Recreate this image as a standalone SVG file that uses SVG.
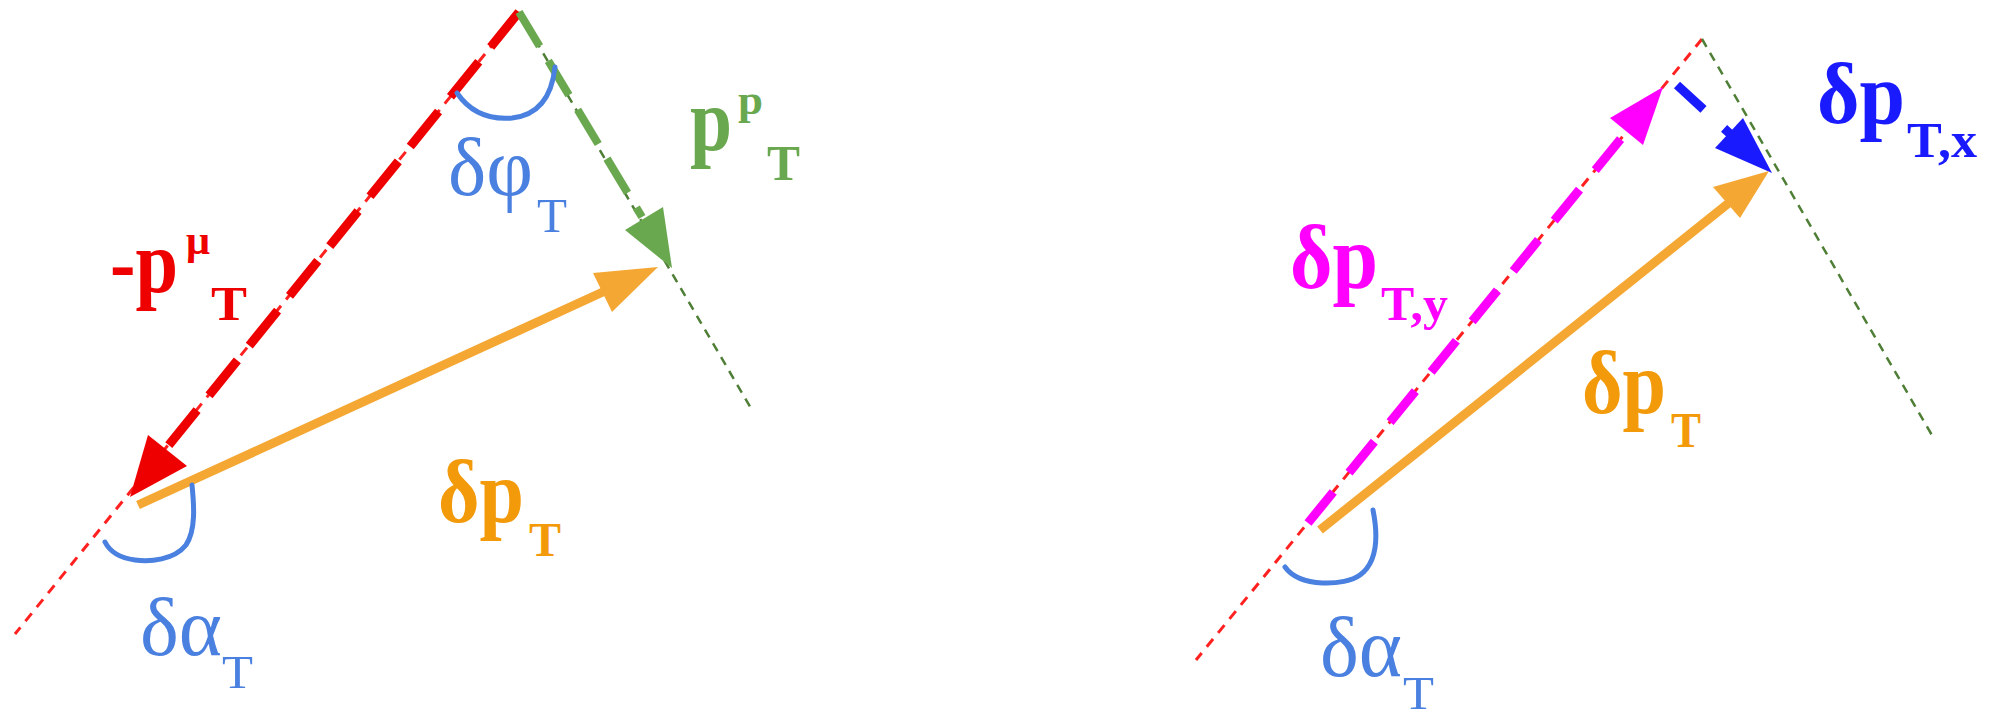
<svg xmlns="http://www.w3.org/2000/svg" width="1990" height="714" viewBox="0 0 1990 714">
<style>
.thinR{fill:none;stroke:#ff2020;stroke-width:3;stroke-dasharray:10 8}
.thinG{fill:none;stroke:#4f7f36;stroke-width:2.5;stroke-dasharray:9 7}
.thickR{fill:none;stroke:#ee0000;stroke-width:9;stroke-dasharray:45 19}
.thickG{fill:none;stroke:#6aa84f;stroke-width:8;stroke-dasharray:40 17}
.thickM{fill:none;stroke:#ff00ff;stroke-width:9;stroke-dasharray:40 25}
.thickB{fill:none;stroke:#1a1aff;stroke-width:9}
.solidO{fill:none;stroke:#f5a733;stroke-width:9}
.arc{fill:none;stroke:#4a80e0;stroke-width:5;stroke-linecap:round}
.b{font-family:"Liberation Serif","DejaVu Serif",serif;font-weight:bold}
.r{font-family:"Liberation Serif","DejaVu Serif",serif}
.cR{fill:#ee0000}.cG{fill:#6aa84f}.cO{fill:#f39a0b}.cB{fill:#4a80e0}.cM{fill:#ff00ff}.cDB{fill:#1a1aff}
</style>
<g id="connectors">
  <!-- left diagram -->
  <line class="thinR" x1="519" y1="12" x2="15" y2="634"/>
  <line class="thinG" x1="519" y1="12" x2="752" y2="410"/>
  <line class="thickR" x1="519" y1="12" x2="160" y2="456"/>
  <polygon class="cR" points="130,497 148,435 187,466"/>
  <line class="thickG" x1="519" y1="12" x2="642" y2="217"/>
  <polygon class="cG" points="672,268 625,230 663,207"/>
  <line class="solidO" x1="138" y1="505" x2="605" y2="291"/>
  <polygon fill="#f5a733" points="658,267 593,273 612,312"/>
  <path class="arc" d="M457,93 C470,112 488,120 512,118 C540,115 552,95 555,67"/>
  <path class="arc" d="M192,485 C194,505 196,530 186,545 C174,560 150,562 135,560 C120,558 110,552 105,542"/>
  <!-- right diagram -->
  <line class="thinR" x1="1702" y1="39" x2="1196" y2="660"/>
  <line class="thinG" x1="1702" y1="39" x2="1933" y2="437"/>
  <line class="thickM" x1="1308" y1="523" x2="1628" y2="130"/>
  <polygon class="cM" points="1663,87 1610,118 1643,145"/>
  <line class="thickB" x1="1677" y1="85" x2="1740" y2="143" stroke-dasharray="36 28 30"/>
  <polygon class="cDB" points="1772,173 1743,118 1715,148"/>
  <line class="solidO" x1="1320" y1="530" x2="1730" y2="202"/>
  <polygon fill="#f5a733" points="1769,171 1713,187 1740,218"/>
  <path class="arc" d="M1373,510 C1377,530 1380,560 1360,575 C1345,586 1300,588 1285,567"/>
</g>
<g id="label-pmu">
  <text class="b cR" x="110" y="292" font-size="88" textLength="68" lengthAdjust="spacingAndGlyphs">-p</text>
  <text class="b cR" x="186" y="254" font-size="40" textLength="24" lengthAdjust="spacingAndGlyphs">μ</text>
  <text class="b cR" x="211" y="320" font-size="48" textLength="36" lengthAdjust="spacingAndGlyphs">T</text>
</g>
<g id="label-dphi">
  <text class="r cB" x="448" y="195" font-size="82" textLength="85" lengthAdjust="spacingAndGlyphs">δφ</text>
  <text class="r cB" x="537" y="232" font-size="49" textLength="30" lengthAdjust="spacingAndGlyphs">T</text>
</g>
<g id="label-pp">
  <text class="b cG" x="690" y="150" font-size="88" textLength="42" lengthAdjust="spacingAndGlyphs">p</text>
  <text class="b cG" x="738" y="114" font-size="41" textLength="25" lengthAdjust="spacingAndGlyphs">p</text>
  <text class="b cG" x="767" y="180" font-size="50" textLength="33" lengthAdjust="spacingAndGlyphs">T</text>
</g>
<g id="label-dpt-left">
  <text class="b cO" x="438" y="522" font-size="88" textLength="86" lengthAdjust="spacingAndGlyphs">δp</text>
  <text class="b cO" x="529" y="556" font-size="48" textLength="32" lengthAdjust="spacingAndGlyphs">T</text>
</g>
<g id="label-dalpha-left">
  <text class="r cB" x="140" y="655" font-size="83" textLength="82" lengthAdjust="spacingAndGlyphs">δα</text>
  <text class="r cB" x="222" y="688" font-size="47" textLength="31" lengthAdjust="spacingAndGlyphs">T</text>
</g>
<g id="label-dptx">
  <text class="b cDB" x="1817" y="123" font-size="87" textLength="88" lengthAdjust="spacingAndGlyphs">δp</text>
  <text class="b cDB" x="1907" y="157" font-size="50" textLength="70" lengthAdjust="spacingAndGlyphs">T,x</text>
</g>
<g id="label-dpty">
  <text class="b cM" x="1290" y="288" font-size="90" textLength="88" lengthAdjust="spacingAndGlyphs">δp</text>
  <text class="b cM" x="1381" y="320" font-size="48" textLength="67" lengthAdjust="spacingAndGlyphs">T,y</text>
</g>
<g id="label-dpt-right">
  <text class="b cO" x="1582" y="413" font-size="88" textLength="84" lengthAdjust="spacingAndGlyphs">δp</text>
  <text class="b cO" x="1671" y="447" font-size="50" textLength="30" lengthAdjust="spacingAndGlyphs">T</text>
</g>
<g id="label-dalpha-right">
  <text class="r cB" x="1320" y="676" font-size="85" textLength="82" lengthAdjust="spacingAndGlyphs">δα</text>
  <text class="r cB" x="1403" y="709" font-size="46" textLength="31" lengthAdjust="spacingAndGlyphs">T</text>
</g>
</svg>
